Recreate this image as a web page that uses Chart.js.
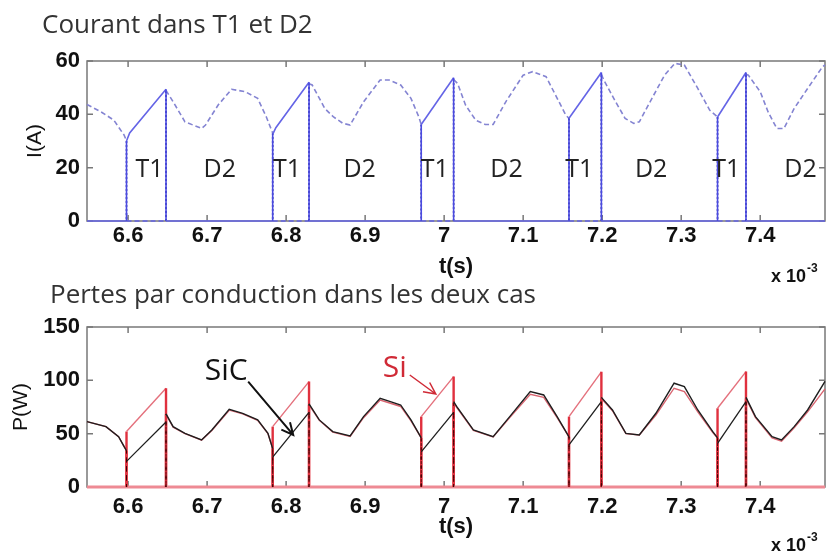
<!DOCTYPE html>
<html lang="fr">
<head>
<meta charset="utf-8">
<title>Courant dans T1 et D2 - Pertes par conduction</title>
<script src="https://cdn.jsdelivr.net/npm/chart.js@4.4.1/dist/chart.umd.min.js"></script>
<style>
    html, body { margin: 0; padding: 0; background: #fff; }
    body { width: 827px; height: 554px; position: relative; overflow: hidden; }
    canvas { position: absolute; left: 0; }
    #graphCourant { top: 0; }
    #graphPertes { top: 280px; }
</style>
</head>
<body>
<canvas id="graphCourant" width="827" height="290"></canvas>
<canvas id="graphPertes" width="827" height="274"></canvas>
<script>
// DONNEES (temps en ms, affiché x 10^-3 s)
const tMin = 6.548;
const tMax = 7.482;
const ticksCourant = [0, 20, 40, 60];
const ticksPertes = [0, 50, 100, 150];

// Courant dans T1 (trait plein)
const tempsT1 = [6.548, 6.598, 6.598, 6.602, 6.648, 6.648,
    6.783, 6.783, 6.787, 6.829, 6.829,
    6.971, 6.971, 7.012, 7.012,
    7.158, 7.158, 7.199, 7.199,
    7.346, 7.346, 7.382, 7.382, 7.482];
const courantT1 = [0, 0, 30, 33, 49.4, 0,
    0, 32.5, 35, 52, 0,
    0, 36.2, 53.7, 0,
    0, 38.5, 55.7, 0,
    0, 39, 55.7, 0, 0];

// Courant dans D2 (pointillés)
const tempsD2 = [6.548, 6.567, 6.582, 6.595, 6.598, 6.598,
    6.648, 6.648, 6.657, 6.672, 6.693, 6.698, 6.714, 6.731, 6.748, 6.764, 6.775, 6.783, 6.783,
    6.829, 6.829, 6.833, 6.849, 6.86, 6.872, 6.881, 6.898, 6.919, 6.93, 6.945, 6.958, 6.968, 6.971, 6.971,
    7.012, 7.012, 7.017, 7.027, 7.04, 7.052, 7.062, 7.078, 7.1, 7.112, 7.129, 7.141, 7.154, 7.158, 7.158,
    7.199, 7.199, 7.202, 7.217, 7.229, 7.24, 7.247, 7.263, 7.279, 7.292, 7.304, 7.321, 7.336, 7.346, 7.346,
    7.382, 7.382, 7.385, 7.4, 7.41, 7.421, 7.43, 7.443, 7.46, 7.479, 7.482];
const courantD2 = [43.7, 40.7, 37.8, 32.2, 30, 0,
    0, 49, 44.7, 37.2, 34.7, 36, 43.5, 49.4, 48.5, 46, 39, 33, 0,
    0, 51.5, 51, 42.2, 39, 36.6, 36, 44.7, 52.9, 52.9, 51, 46, 39, 36.2, 0,
    0, 53, 51.6, 43.5, 37.8, 36.2, 36.2, 44.7, 54.7, 56, 54.1, 47.2, 39.7, 38.5, 0,
    0, 55, 52.9, 44.7, 38.5, 36.6, 37.2, 46, 54.7, 59.1, 58.5, 49.7, 41.6, 39, 0,
    0, 55, 54.7, 48.5, 40.9, 34.7, 34.7, 42.2, 49.7, 57.9, 58.5];

// Pertes pendant la conduction de T1
const tempsPertesT1 = [6.548, 6.598, 6.598, 6.648, 6.648,
    6.783, 6.783, 6.829, 6.829,
    6.971, 6.971, 7.012, 7.012,
    7.158, 7.158, 7.199, 7.199,
    7.346, 7.346, 7.382, 7.382, 7.482];
const pertesSiT1 = [0, 0, 52, 92.6, 0,
    0, 56.6, 98.8, 0,
    0, 66, 103.5, 0,
    0, 66, 108, 0,
    0, 73.8, 108.2, 0, 0];
const pertesSiCT1 = [0, 0, 24, 61, 0,
    0, 28, 70, 0,
    0, 33, 70, 0,
    0, 39.4, 80, 0,
    0, 41, 80, 0, 0];

// Pertes pendant la conduction de D2
const tempsPertesD2 = [6.548, 6.572, 6.588, 6.595, 6.598, 6.598,
    6.648, 6.648, 6.657, 6.672, 6.693, 6.706, 6.728, 6.745, 6.764, 6.777, 6.783, 6.783,
    6.829, 6.829, 6.842, 6.859, 6.881, 6.898, 6.919, 6.932, 6.945, 6.958, 6.971, 6.971,
    7.012, 7.012, 7.016, 7.037, 7.062, 7.083, 7.109, 7.126, 7.143, 7.158, 7.158,
    7.199, 7.199, 7.213, 7.23, 7.247, 7.268, 7.291, 7.304, 7.321, 7.34, 7.346, 7.346,
    7.382, 7.382, 7.394, 7.415, 7.427, 7.443, 7.46, 7.482];
const pertesSiCD2 = [61.3, 56.6, 47.2, 37.8, 34, 0,
    0, 68.5, 56.6, 50.3, 44.1, 53.5, 72.9, 69.1, 62.9, 50.3, 36, 0,
    0, 78, 62.9, 51.9, 47.8, 66, 83.2, 80, 76.9, 62.9, 46, 0,
    0, 80, 75.3, 53.5, 47.2, 66, 89.4, 86.3, 66, 47, 0,
    0, 84, 72.2, 50.3, 48.8, 69.1, 97.3, 94.1, 72.2, 51.9, 46, 0,
    0, 84, 66, 47.2, 44.1, 56.6, 72.2, 99];
const pertesSiD2 = [61.3, 56.6, 47.2, 37.8, 34, 0,
    0, 68, 56, 50, 44, 53, 72, 68.5, 62.5, 50, 36, 0,
    0, 77, 62.5, 51.5, 47.5, 65, 81.6, 78.5, 75.5, 62, 46, 0,
    0, 79, 74.5, 53, 47, 65, 87, 84, 65, 47, 0,
    0, 83, 71.5, 50, 48.8, 67.5, 92.6, 89.4, 70.5, 51, 46, 0,
    0, 83, 65, 46, 43, 55.5, 70.5, 92];

// ---------------------------------------------------------------

function points(temps, valeurs) {
    return temps.map((t, i) => ({ x: t, y: valeurs[i] }));
}

function vertical(c) {
    return c.p0.parsed.x === c.p1.parsed.x;
}

function surZero(c) {
    return c.p0.parsed.y === 0 && c.p1.parsed.y === 0;
}

const policeAxe = { family: "'Liberation Sans', Arial, sans-serif", size: 22, weight: 'bold' };

function options(cfg) {
    return {
        responsive: false,
        animation: false,
        devicePixelRatio: 1,
        layout: { padding: cfg.padding },
        plugins: { legend: { display: false }, tooltip: { enabled: false } },
        elements: { point: { radius: 0 }, line: { tension: 0 } },
        scales: {
            x: {
                type: 'linear',
                min: tMin,
                max: tMax,
                grid: { display: false, drawTicks: false },
                border: { display: false },
                ticks: {
                    stepSize: 0.1,
                    includeBounds: false,
                    autoSkip: false,
                    maxRotation: 0,
                    padding: cfg.xPad,
                    color: '#111',
                    font: policeAxe,
                    callback: v => Number(v.toFixed(1)).toString()
                },
                title: { display: true, text: 't(s)', color: '#111', font: policeAxe, padding: { top: 0, bottom: cfg.xTitrePad } },
                afterFit: s => { s.height = cfg.xHauteur; }
            },
            y: {
                type: 'linear',
                min: cfg.yTicks[0],
                max: cfg.yTicks[cfg.yTicks.length - 1],
                grid: { display: false, drawTicks: false },
                border: { display: false },
                afterBuildTicks: s => { s.ticks = cfg.yTicks.map(v => ({ value: v })); },
                ticks: { padding: 7, color: '#111', font: policeAxe },
                title: { display: true, text: cfg.yTitre, color: '#111', padding: 0,
                    font: { family: "'Liberation Sans', Arial, sans-serif", size: 21 } },
                afterFit: s => { s.width = cfg.yLargeur; }
            }
        }
    };
}

// cadre gris et graduations vers l'intérieur (style matlab)
const cadre = {
    id: 'cadre',
    beforeDatasetsDraw(chart) {
        const { ctx, chartArea: a, scales: { x, y } } = chart;
        ctx.save();
        ctx.strokeStyle = '#787878';
        ctx.lineWidth = 1.5;
        ctx.strokeRect(a.left, a.top, a.right - a.left, a.bottom - a.top);
        ctx.beginPath();
        x.ticks.forEach(t => {
            const px = x.getPixelForValue(t.value);
            ctx.moveTo(px, a.bottom); ctx.lineTo(px, a.bottom - 6);
            ctx.moveTo(px, a.top); ctx.lineTo(px, a.top + 6);
        });
        y.ticks.forEach(t => {
            const py = y.getPixelForValue(t.value);
            ctx.moveTo(a.left, py); ctx.lineTo(a.left + 6, py);
            ctx.moveTo(a.right, py); ctx.lineTo(a.right - 6, py);
        });
        ctx.stroke();
        ctx.restore();
    }
};

function puissance(ctx, x, base) {
    ctx.fillStyle = '#111';
    ctx.textAlign = 'left';
    ctx.textBaseline = 'alphabetic';
    ctx.font = "bold 18px 'Liberation Sans', Arial, sans-serif";
    ctx.fillText('x 10', x, base);
    const w = ctx.measureText('x 10').width;
    ctx.font = "bold 12px 'Liberation Sans', Arial, sans-serif";
    ctx.fillText('-3', x + w + 1, base - 10);
}

function fleche(ctx, x1, y1, x2, y2, couleur, largeur) {
    const ang = Math.atan2(y2 - y1, x2 - x1);
    ctx.strokeStyle = couleur;
    ctx.lineWidth = largeur;
    ctx.beginPath();
    ctx.moveTo(x1, y1);
    ctx.lineTo(x2, y2);
    ctx.moveTo(x2 - 13 * Math.cos(ang - 0.45), y2 - 13 * Math.sin(ang - 0.45));
    ctx.lineTo(x2, y2);
    ctx.lineTo(x2 - 13 * Math.cos(ang + 0.45), y2 - 13 * Math.sin(ang + 0.45));
    ctx.stroke();
}

const textesCourant = {
    id: 'textesCourant',
    afterDraw(chart) {
        const { ctx, scales: { x, y } } = chart;
        ctx.save();
        ctx.fillStyle = '#333';
        ctx.textBaseline = 'alphabetic';
        ctx.font = "26px 'Open Sans', sans-serif";
        ctx.fillText('Courant dans T1 et D2', 42, 33);
        // etiquettes des phases de conduction
        const phases = [['T1', 6.627], ['D2', 6.716], ['T1', 6.801], ['D2', 6.893], ['T1', 6.988],
            ['D2', 7.079], ['T1', 7.171], ['D2', 7.262], ['T1', 7.357], ['D2', 7.451]];
        ctx.fillStyle = '#222';
        ctx.textAlign = 'center';
        ctx.font = "25px 'Open Sans', sans-serif";
        phases.forEach(([txt, t]) => ctx.fillText(txt, x.getPixelForValue(t), y.getPixelForValue(16.5)));
        puissance(ctx, 771, 282);
        ctx.restore();
    }
};

const textesPertes = {
    id: 'textesPertes',
    afterDraw(chart) {
        const { ctx, scales: { x, y } } = chart;
        ctx.save();
        ctx.fillStyle = '#333';
        ctx.textBaseline = 'alphabetic';
        ctx.font = "26px 'Open Sans', sans-serif";
        ctx.fillText('Pertes par conduction dans les deux cas', 50, 23);
        ctx.font = "30px 'Open Sans', sans-serif";
        ctx.fillStyle = '#111';
        ctx.fillText('SiC', x.getPixelForValue(6.697), y.getPixelForValue(100.4));
        fleche(ctx, x.getPixelForValue(6.752), y.getPixelForValue(98.8),
            x.getPixelForValue(6.809), y.getPixelForValue(48.8), '#111', 2);
        ctx.fillStyle = '#d02a36';
        ctx.fillText('Si', x.getPixelForValue(6.9224), y.getPixelForValue(103.2));
        fleche(ctx, x.getPixelForValue(6.9565), y.getPixelForValue(105),
            x.getPixelForValue(6.9894), y.getPixelForValue(87.2), '#d02a36', 1.5);
        puissance(ctx, 771, 271);
        ctx.restore();
    }
};

document.addEventListener("DOMContentLoaded", function () {
    new Chart(document.getElementById("graphCourant"), {
        type: "line",
        data: {
            datasets: [{
                label: "T1",
                data: points(tempsT1, courantT1),
                borderColor: "#6464e6",
                borderWidth: 1.6,
                clip: false,
                segment: { borderColor: c => vertical(c) ? "#4a4ae0" : undefined }
            }, {
                label: "D2",
                data: points(tempsD2, courantD2),
                borderColor: "#8484d2",
                borderWidth: 1.6,
                borderDash: [5, 3],
                clip: false,
                segment: {
                    borderColor: c => vertical(c) ? "#1e1e9c" : (surZero(c) ? "#6464e6" : undefined),
                    borderDash: c => vertical(c) ? [2, 2] : undefined
                }
            }]
        },
        options: options({
            padding: { left: 23, right: 2, top: 61, bottom: 0 },
            yLargeur: 64, xHauteur: 69, xPad: 2, xTitrePad: 9.8,
            yTicks: ticksCourant, yTitre: "I(A)"
        }),
        plugins: [cadre, textesCourant]
    });

    new Chart(document.getElementById("graphPertes"), {
        type: "line",
        data: {
            datasets: [{
                label: "SiC T1",
                data: points(tempsPertesT1, pertesSiCT1),
                borderColor: "#1e1e1e",
                borderWidth: 1.3,
                clip: false,
                order: 0,
                segment: {
                    borderColor: c => surZero(c) ? "rgba(0,0,0,0)" : (vertical(c) ? "rgba(60,0,0,0.8)" : undefined),
                    borderWidth: c => vertical(c) ? 1 : undefined,
                    borderDash: c => vertical(c) ? [3, 6] : undefined
                }
            }, {
                label: "SiC D2",
                data: points(tempsPertesD2, pertesSiCD2),
                borderColor: "#1e1e1e",
                borderWidth: 1.4,
                clip: false,
                order: 1,
                segment: {
                    borderColor: c => surZero(c) ? "rgba(0,0,0,0)" : (vertical(c) ? "rgba(60,0,0,0.8)" : undefined),
                    borderWidth: c => vertical(c) ? 1 : undefined,
                    borderDash: c => vertical(c) ? [3, 6] : undefined
                }
            }, {
                label: "Si T1",
                data: points(tempsPertesT1, pertesSiT1),
                borderColor: "#e4707c",
                borderWidth: 1.4,
                clip: false,
                order: 2,
                segment: {
                    borderColor: c => vertical(c) ? "#e0303e" : (surZero(c) ? "#ee8a94" : undefined),
                    borderWidth: c => surZero(c) ? 3 : (vertical(c) ? 2.4 : undefined)
                }
            }, {
                label: "Si D2",
                data: points(tempsPertesD2, pertesSiD2),
                borderColor: "#d86470",
                borderWidth: 1.4,
                clip: false,
                order: 3,
                segment: {
                    borderColor: c => vertical(c) ? "#e0303e" : (surZero(c) ? "#ee8a94" : undefined),
                    borderWidth: c => surZero(c) ? 3 : (vertical(c) ? 2.4 : undefined)
                }
            }]
        },
        options: options({
            padding: { left: 9, right: 2, top: 47, bottom: 0 },
            yLargeur: 78, xHauteur: 67, xPad: 6.3, xTitrePad: 13.8,
            yTicks: ticksPertes, yTitre: "P(W)"
        }),
        plugins: [cadre, textesPertes]
    });
});
</script>
</body>
</html>
